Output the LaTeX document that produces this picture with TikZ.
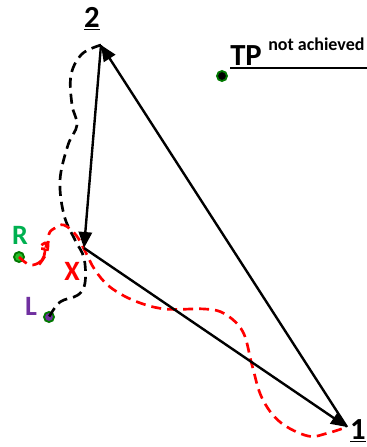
\documentclass[tikz,border=0pt]{standalone}
\usepackage{fontspec}
\setmainfont{Carlito}
\usetikzlibrary{arrows.meta}
\definecolor{ogreen}{RGB}{0,176,80}
\definecolor{lgreen}{RGB}{40,190,40}
\definecolor{dgreen}{RGB}{0,120,0}
\definecolor{opurple}{RGB}{112,48,160}
\tikzstyle{corner} = [inner sep=0pt, font=\bfseries\fontsize{23}{26}\selectfont]
\tikzstyle{tag} = [inner sep=0pt, font=\bfseries\fontsize{21}{24}\selectfont]
\tikzstyle{arrow} = [line width=1.8pt, -{Triangle[length=12pt,width=10pt]}]
\tikzstyle{spot} = [circle, draw=dgreen, line width=1.4pt, inner sep=0pt, minimum size=7.5pt]
\tikzstyle{trail} = [line width=2pt, dash pattern=on 7.5pt off 4.5pt]

\begin{document}
\begin{tikzpicture}[x=0.75pt,y=-0.75pt]
\useasboundingbox (0,0) rectangle (367,447);
\coordinate (p1) at (347,427);
\coordinate (p2) at (101,45);
\coordinate (px) at (84,248);
\node (one) [corner] at (358,431) {\underline{1}};
\node (two) [corner] at (92,19) {\underline{2}};
\node (xlab) [tag, red] at (72,271) {X};
\node (rlab) [tag, ogreen] at (20,235) {R};
\node (llab) [tag, opurple] at (31,306) {L};
\node (rdot) [spot, fill=lgreen] at (19,257) {};
\node (ldot) [spot, fill=opurple] at (49,317) {};
\node (tpdot) [spot, fill=black] at (222,76) {};
\node (tp) [corner, anchor=base west] at (230,65) {TP};
\node (na) [inner sep=0pt, font=\bfseries\fontsize{13.5}{15}\selectfont, anchor=base west] at (268,50) {not achieved};
\coordinate (lineL) at (230,68);
\coordinate (lineR) at (367,68);
\draw [line width=1.8pt] (lineL) -- (lineR);
\draw [trail] plot[smooth, tension=0.6] coordinates {(p2) (82,54) (71,75) (72,105) (77,125) (68,145) (60,180) (64,215) (75,240) (84,258) (85,283) (78,295) (60,302) (ldot)};
\draw [trail, red] plot[smooth, tension=0.6] coordinates {(rdot) (30,265) (41,261) (45,250) (39,248) (46,243) (44,256) (38,266) (47,252) (49,234) (55,228) (64,225) (76,235) (85,251) (95,270) (110,287) (135,301) (165,309) (205,309) (225,314) (243,332) (252,365) (262,398) (280,422) (308,436) (328,433) (p1)};
\draw [arrow] (p1) -- (p2);
\draw [arrow] (p2) -- (px);
\draw [arrow] (px) -- (p1);
\end{tikzpicture}
\end{document}
